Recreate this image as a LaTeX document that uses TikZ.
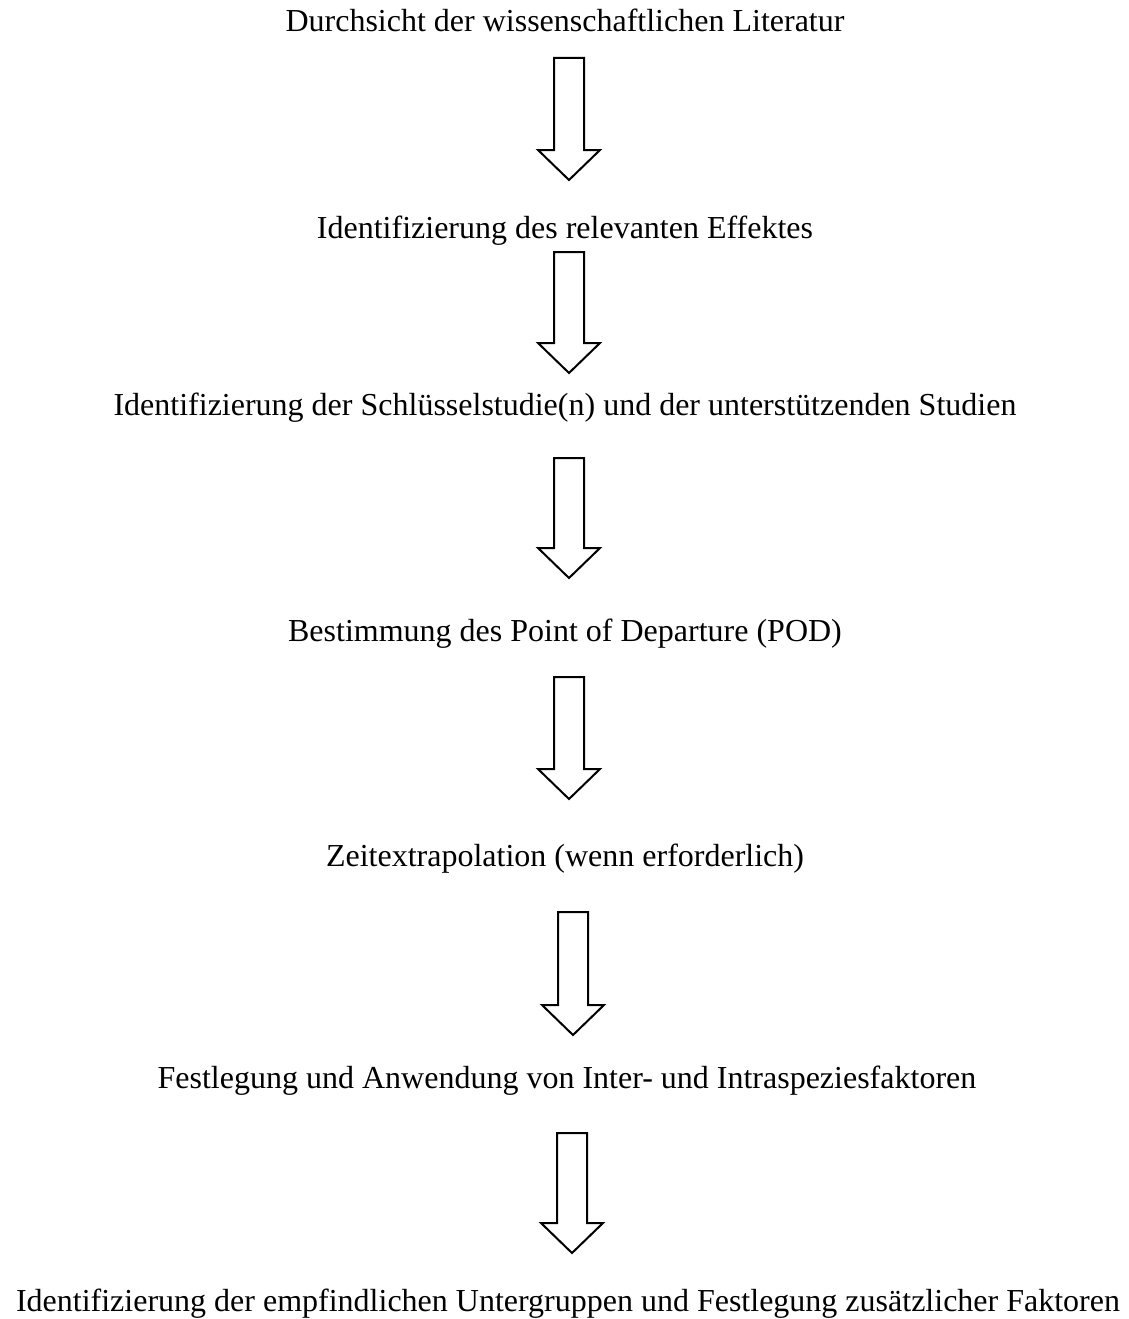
\documentclass[tikz,border=0pt]{standalone}
\usepackage{fontspec}
\setmainfont{Liberation Serif}

\tikzstyle{stage}=[anchor=base, inner sep=0pt, font=\fontsize{32}{38}\selectfont]
\tikzstyle{hollow}=[draw, line width=2pt, fill=white, line join=miter]

% block arrow: centre, top, start of head, tip
\newcommand{\flowarrow}[4]{%
\draw[hollow] (#1-15,#2) -- (#1+15,#2) -- (#1+15,#3) -- (#1+31,#3) -- (#1,#4) -- (#1-31,#3) -- (#1-15,#3) -- cycle;}

\begin{document}
\begin{tikzpicture}[x=1pt, y=-1pt]
\useasboundingbox (0,0) rectangle (1128,1319);

\node[stage] (lit) at (565,32) {Durchsicht der wissenschaftlichen Literatur};
\node[stage] (eff) at (565,238) {Identifizierung des relevanten Effektes};
\node[stage] (stud) at (565,415) {Identifizierung der Schlüsselstudie(n) und der unterstützenden Studien};
\node[stage] (pod) at (565,641) {Bestimmung des Point of Departure (POD)};
\node[stage] (zeit) at (565,866) {Zeitextrapolation (wenn erforderlich)};
\node[stage] (fak) at (567,1088) {Festlegung und Anwendung von Inter- und Intraspeziesfaktoren};
\node[stage] (sub) at (568,1311) {Identifizierung der empfindlichen Untergruppen und Festlegung zusätzlicher Faktoren};

\flowarrow{569}{58}{150}{180}
\flowarrow{569}{252}{343}{373}
\flowarrow{569}{458}{548}{578}
\flowarrow{569}{677}{769}{799}
\flowarrow{573}{912}{1005}{1035}
\flowarrow{572}{1133}{1223}{1253}
\end{tikzpicture}
\end{document}
